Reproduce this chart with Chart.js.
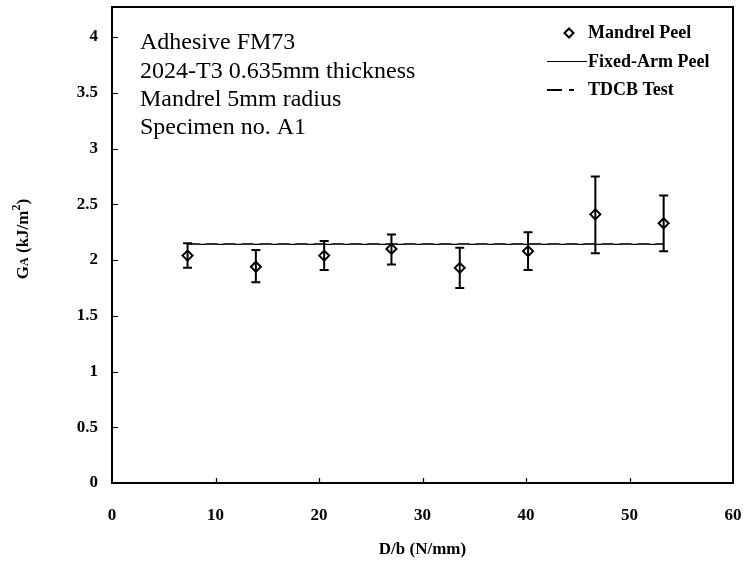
<!DOCTYPE html>
<html lang="en">
<head>
    <meta charset="UTF-8">
    <title>Mandrel Peel - FM73</title>
    <script src="https://cdn.jsdelivr.net/npm/chart.js"></script>
    <style>
        html, body { margin: 0; padding: 0; background: #fff; }
        #wrap { width: 744px; height: 565px; }
    </style>
</head>
<body>
    <div id="wrap"><canvas id="peelChart" width="744" height="565"></canvas></div>

    <script>
        // Data
        const loadPerWidth = [7.3, 13.9, 20.5, 27.0, 33.6, 40.2, 46.7, 53.3];
        const mandrelPeel = [2.04, 1.94, 2.04, 2.10, 1.93, 2.08, 2.41, 2.33];
        const mandrelUpper = [2.15, 2.09, 2.17, 2.23, 2.11, 2.25, 2.75, 2.58];
        const mandrelLower = [1.93, 1.80, 1.91, 1.96, 1.75, 1.91, 2.06, 2.08];

        const refLineX = [7.3, 53.3];
        const fixedArmPeel = [2.14, 2.14];
        const tdcbTest = [2.145, 2.145];

        const xTicks = [0, 10, 20, 30, 40, 50, 60];
        const yTicks = [0, 0.5, 1, 1.5, 2, 2.5, 3, 3.5, 4];

        const noteLines = [
            "Adhesive FM73",
            "2024-T3 0.635mm thickness",
            "Mandrel 5mm radius",
            "Specimen no. A1"
        ];

        const SERIF = "'Liberation Serif', 'Times New Roman', serif";

        // keep the plot box where the reference has it
        function noOverhang(s) {
            s.paddingLeft = 0; s.paddingRight = 0;
            s.paddingTop = 0; s.paddingBottom = 0;
        }

        // Frame, inward ticks, error bars, notes, legend, y title
        const extrasPlugin = {
            id: "extras",
            afterDatasetsDraw(chart) {
                const ctx = chart.ctx;
                const a = chart.chartArea;
                const xs = chart.scales.x;
                const ys = chart.scales.y;

                ctx.save();
                ctx.strokeStyle = "#000";

                // error bars
                ctx.lineWidth = 2;
                loadPerWidth.forEach((xv, i) => {
                    const px = xs.getPixelForValue(xv);
                    const top = ys.getPixelForValue(mandrelUpper[i]);
                    const bot = ys.getPixelForValue(mandrelLower[i]);
                    ctx.beginPath();
                    ctx.moveTo(px, top); ctx.lineTo(px, bot);
                    ctx.moveTo(px - 4.5, top); ctx.lineTo(px + 4.5, top);
                    ctx.moveTo(px - 4.5, bot); ctx.lineTo(px + 4.5, bot);
                    ctx.stroke();
                });

                // box
                ctx.lineWidth = 2;
                ctx.strokeRect(a.left, a.top, a.right - a.left, a.bottom - a.top);

                // inward ticks
                ctx.lineWidth = 1.2;
                ctx.beginPath();
                xTicks.forEach(v => {
                    if (v === 0 || v === 60) return;
                    const px = Math.round(xs.getPixelForValue(v)) + 0.5;
                    ctx.moveTo(px, a.bottom); ctx.lineTo(px, a.bottom - 5);
                });
                yTicks.forEach(v => {
                    if (v === 0) return;
                    const py = Math.round(ys.getPixelForValue(v)) + 0.5;
                    ctx.moveTo(a.left, py); ctx.lineTo(a.left + 6, py);
                });
                ctx.stroke();

                // notes
                ctx.fillStyle = "#000";
                ctx.font = "24px " + SERIF;
                ctx.textAlign = "left";
                ctx.textBaseline = "middle";
                noteLines.forEach((t, i) => ctx.fillText(t, 140, 43 + i * 28.3));

                // legend
                const ds = chart.data.datasets;
                ctx.font = "bold 18px " + SERIF;
                ctx.textBaseline = "middle";
                ctx.fillText(ds[0].label, 588, 33);
                ctx.fillText(ds[1].label, 588, 62);
                ctx.fillText(ds[2].label, 588, 90);

                ctx.lineWidth = 2;
                ctx.fillStyle = "#fff";
                ctx.beginPath();
                ctx.moveTo(569 - 4.5, 33); ctx.lineTo(569, 33 - 4.5);
                ctx.lineTo(569 + 4.5, 33); ctx.lineTo(569, 33 + 4.5);
                ctx.closePath();
                ctx.fill(); ctx.stroke();

                ctx.lineWidth = 1;
                ctx.beginPath();
                ctx.moveTo(547, 61.5); ctx.lineTo(587, 61.5);
                ctx.stroke();

                ctx.lineWidth = 2;
                ctx.beginPath();
                ctx.moveTo(547, 90); ctx.lineTo(562, 90);
                ctx.moveTo(569, 90); ctx.lineTo(574, 90);
                ctx.stroke();

                // y title with subscript and superscript
                ctx.translate(22, (a.top + a.bottom) / 2 - 6);
                ctx.rotate(-Math.PI / 2);
                ctx.fillStyle = "#000";
                ctx.textBaseline = "alphabetic";
                const parts = [
                    { t: "G", f: "bold 17px ", dy: 0 },
                    { t: "A", f: "bold 12px ", dy: 0 },
                    { t: " (kJ/m", f: "bold 17px ", dy: 0 },
                    { t: "2", f: "bold 12px ", dy: -8 },
                    { t: ")", f: "bold 17px ", dy: 0 }
                ];
                let total = 0;
                parts.forEach(p => { ctx.font = p.f + SERIF; total += ctx.measureText(p.t).width; });
                let cx = -total / 2;
                parts.forEach(p => {
                    ctx.font = p.f + SERIF;
                    ctx.fillText(p.t, cx, 6 + p.dy);
                    cx += ctx.measureText(p.t).width;
                });

                ctx.restore();
            }
        };

        const ctx = document.getElementById("peelChart").getContext("2d");
        new Chart(ctx, {
            type: "scatter",
            data: {
                datasets: [
                    {
                        label: "Mandrel Peel",
                        data: loadPerWidth.map((x, i) => ({ x: x, y: mandrelPeel[i] })),
                        showLine: false,
                        pointStyle: "rectRot",
                        pointRadius: 5,
                        pointBorderWidth: 2,
                        pointBackgroundColor: "#fff",
                        pointBorderColor: "#000",
                        order: 0
                    },
                    {
                        label: "Fixed-Arm Peel",
                        data: refLineX.map((x, i) => ({ x: x, y: fixedArmPeel[i] })),
                        showLine: true,
                        borderColor: "#000",
                        borderWidth: 1.2,
                        pointRadius: 0,
                        order: 2
                    },
                    {
                        label: "TDCB Test",
                        data: refLineX.map((x, i) => ({ x: x, y: tdcbTest[i] })),
                        showLine: true,
                        borderColor: "#333",
                        borderWidth: 2,
                        borderDash: [12, 6],
                        pointRadius: 0,
                        order: 1
                    }
                ]
            },
            options: {
                responsive: false,
                animation: false,
                devicePixelRatio: 1,
                layout: { padding: { top: 5, right: 11, left: 0, bottom: 0 } },
                plugins: {
                    legend: { display: false },
                    tooltip: { enabled: false }
                },
                scales: {
                    x: {
                        type: "linear",
                        min: 0,
                        max: 60,
                        afterBuildTicks: s => { s.ticks = xTicks.map(v => ({ value: v })); },
                        afterFit: s => { s.height = 82; noOverhang(s); },
                        grid: { display: false, drawTicks: false },
                        border: { display: false },
                        ticks: {
                            color: "#000",
                            padding: 22,
                            maxRotation: 0,
                            callback: v => String(v),
                            font: { family: SERIF, size: 17, weight: "bold" }
                        },
                        title: {
                            display: true,
                            text: "D/b (N/mm)",
                            color: "#000",
                            padding: { top: 0, bottom: 5 },
                            font: { family: SERIF, size: 17, weight: "bold" }
                        }
                    },
                    y: {
                        type: "linear",
                        min: 0,
                        max: 4.27,
                        afterBuildTicks: s => { s.ticks = yTicks.map(v => ({ value: v })); },
                        afterFit: s => { s.width = 112; noOverhang(s); },
                        grid: { display: false, drawTicks: false },
                        border: { display: false },
                        ticks: {
                            color: "#000",
                            padding: 14,
                            callback: v => String(v),
                            font: { family: SERIF, size: 17, weight: "bold" }
                        }
                    }
                }
            },
            plugins: [extrasPlugin]
        });
    </script>
</body>
</html>
